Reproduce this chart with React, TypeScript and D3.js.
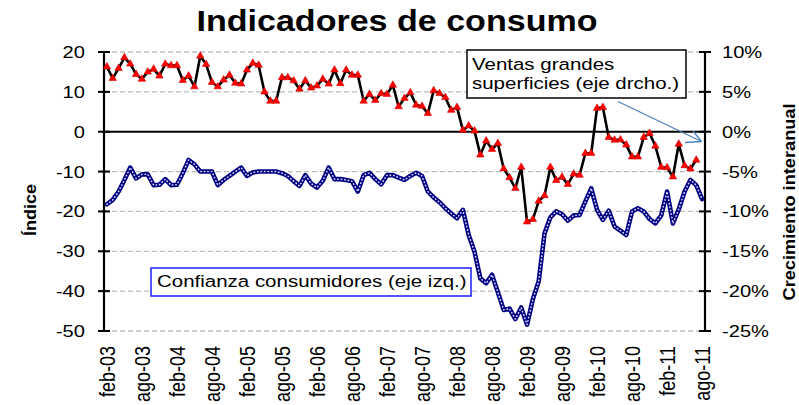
import React from "react";
import * as d3 from "d3";

const MONTHS = ["ene", "feb", "mar", "abr", "may", "jun", "jul", "ago", "sep", "oct", "nov", "dic"];
// feb-03 .. ago-11 (103 months)
const categories: string[] = [];
for (let k = 0; k < 103; k++) {
  const m = (1 + k) % 12;
  const y = 3 + Math.floor((1 + k) / 12);
  categories.push(`${MONTHS[m]}-${String(y).padStart(2, "0")}`);
}

const xTickLabels = [
  "feb-03", "ago-03", "feb-04", "ago-04", "feb-05", "ago-05", "feb-06", "ago-06", "feb-07",
  "ago-07", "feb-08", "ago-08", "feb-09", "ago-09", "feb-10", "ago-10", "feb-11", "ago-11",
];
const leftTicks = [20, 10, 0, -10, -20, -30, -40, -50];
const rightTicks = [10, 5, 0, -5, -10, -15, -20, -25];

// Ventas grandes superficies, % interanual (right axis), feb-03 .. jul-11
const ventas = [
  8.15, 6.7, 7.95, 9.3, 8.5, 7.2, 6.6, 7.5, 7.85, 7.0, 8.5, 8.3,
  8.3, 6.45, 7.0, 5.65, 9.5, 8.45, 6.2, 5.65, 6.5, 7.1, 6.1, 6.0,
  7.75, 8.6, 8.35, 5.0, 3.85, 3.85, 6.8, 6.8, 6.4, 5.35, 6.4, 5.5,
  5.75, 6.6, 6.0, 7.75, 6.05, 7.75, 7.1, 7.1, 3.85, 4.7, 3.95, 4.8,
  4.7, 5.85, 3.15, 4.2, 4.9, 3.35, 3.2, 2.3, 5.15, 4.8, 4.3, 2.7,
  3.05, 0.2, 0.75, 0.1, -2.9, -1.15, -2.2, -1.45, -4.65, -5.75, -7.1, -4.45,
  -11.3, -11.0, -8.7, -8.0, -4.45, -6.1, -5.7, -6.6, -5.3, -5.45, -2.7, -2.7,
  2.95, 3.05, -0.7, -1.05, -1.0, -1.65, -3.15, -3.15, -0.7, -0.2, -1.8, -4.45,
  -4.5, -5.65, -1.55, -4.25, -4.65, -3.55,
];

// Confianza consumidores, índice (left axis), feb-03 .. ago-11
const confianza = [
  -18.2, -17.1, -15.0, -12.1, -9.0, -11.7, -10.7, -10.7, -13.4, -13.3, -11.9, -13.4,
  -13.3, -10.4, -7.1, -8.2, -10.0, -10.0, -10.0, -13.4, -12.1, -11.1, -10.0, -9.0,
  -11.1, -10.2, -10.0, -10.0, -10.0, -10.0, -10.4, -11.1, -12.4, -13.6, -10.9, -13.0,
  -14.0, -12.3, -9.0, -11.9, -11.9, -12.1, -12.4, -15.0, -10.9, -10.3, -11.9, -13.2,
  -10.9, -10.9, -11.5, -12.1, -11.1, -10.3, -11.1, -15.0, -16.5, -17.7, -19.2, -20.5,
  -21.7, -19.6, -25.9, -30.1, -36.8, -38.0, -35.9, -40.3, -44.7, -44.4, -47.0, -44.1,
  -48.4, -42.0, -37.5, -25.5, -21.5, -20.0, -20.7, -22.3, -21.0, -20.9, -17.5, -14.2,
  -19.6, -22.1, -19.8, -23.8, -24.8, -25.9, -20.0, -19.2, -20.0, -21.9, -23.0, -21.0,
  -15.0, -23.0, -19.5, -15.0, -12.1, -13.4, -16.9,
];

const W = 799;
const H = 405;
const PL = 104;
const PR = 705;
const PT = 52;
const PB = 331;
const SX = 1.22;
const FONT = "'Liberation Sans', Arial, sans-serif";

export default function App() {
  const x = d3.scaleBand<string>().domain(categories).range([PL, PR]);
  const cx = (c: string) => (x(c) as number) + x.bandwidth() / 2;
  const yL = d3.scaleLinear().domain([-50, 20]).range([PB, PT]);
  const yR = d3.scaleLinear().domain([-25, 10]).range([PB, PT]);

  const ventasLine = d3
    .line<number>()
    .x((_, i) => cx(categories[i]))
    .y((d) => yR(d));
  const confLine = d3
    .line<number>()
    .x((_, i) => cx(categories[i]))
    .y((d) => yL(d));
  const tri = d3.symbol(d3.symbolTriangle).size(24)() as string;

  return (
    <svg
      width={W}
      height={H}
      style={{ position: "absolute", left: 0, top: 0, background: "#fff" }}
      fontFamily={FONT}
    >
      <rect width={W} height={H} fill="#fff" />
      {/* title */}
      <text
        x={397}
        y={31}
        textAnchor="middle"
        fontSize={29}
        fontWeight="bold"
        textLength={401}
        lengthAdjust="spacingAndGlyphs"
      >
        Indicadores de consumo
      </text>

      {/* gridlines */}
      {leftTicks
        .filter((t) => t !== 0)
        .map((t) => (
          <line
            key={"g" + t}
            x1={PL}
            x2={PR}
            y1={yL(t)}
            y2={yL(t)}
            stroke="#bdbdbd"
            strokeWidth={1.3}
            strokeDasharray="5 3"
          />
        ))}

      {/* zero line (category axis) */}
      <line x1={PL} x2={PR} y1={yL(0)} y2={yL(0)} stroke="#000" strokeWidth={2} />

      {/* left axis */}
      <line x1={PL} x2={PL} y1={PT} y2={PB} stroke="#000" strokeWidth={2.2} />
      {leftTicks.map((t) => (
        <g key={"l" + t}>
          <line x1={PL - 6} x2={PL + 6} y1={yL(t)} y2={yL(t)} stroke="#000" strokeWidth={2} />
          <text
            transform={`translate(85,${yL(t)}) scale(${SX},1)`}
            textAnchor="end"
            dy="0.36em"
            fontSize={16.5}
          >
            {t}
          </text>
        </g>
      ))}

      {/* right axis */}
      <line x1={PR} x2={PR} y1={PT} y2={PB} stroke="#000" strokeWidth={2.2} />
      {rightTicks.map((t) => (
        <g key={"r" + t}>
          <line x1={PR - 6} x2={PR + 6} y1={yR(t)} y2={yR(t)} stroke="#000" strokeWidth={2} />
          <text
            transform={`translate(722,${yR(t)}) scale(${SX},1)`}
            textAnchor="start"
            dy="0.36em"
            fontSize={16.5}
          >
            {t + "%"}
          </text>
        </g>
      ))}

      {/* x labels */}
      {xTickLabels.map((lab) => (
        <text
          key={lab}
          transform={`translate(${cx(lab)},346) scale(${SX},1) rotate(-90)`}
          textAnchor="end"
          dy="0.36em"
          fontSize={18}
        >
          {lab}
        </text>
      ))}

      {/* axis titles */}
      <text
        transform={`translate(30,210) rotate(-90)`}
        textAnchor="middle"
        dy="0.36em"
        fontSize={16}
        fontWeight="bold"
        textLength={52}
        lengthAdjust="spacingAndGlyphs"
      >
        Índice
      </text>
      <text
        transform={`translate(789,202) rotate(-90)`}
        textAnchor="middle"
        dy="0.36em"
        fontSize={16}
        fontWeight="bold"
        textLength={197}
        lengthAdjust="spacingAndGlyphs"
      >
        Crecimiento interanual
      </text>

      {/* confianza series */}
      <path
        d={confLine(confianza) as string}
        fill="none"
        stroke="#000080"
        strokeWidth={4.6}
        strokeLinejoin="round"
        strokeLinecap="round"
      />
      <path
        d={confLine(confianza) as string}
        fill="none"
        stroke="#dcdcff"
        strokeWidth={1.5}
        strokeDasharray="0.5 3"
        strokeLinecap="round"
        strokeLinejoin="round"
      />

      {/* ventas series */}
      <path
        d={ventasLine(ventas) as string}
        fill="none"
        stroke="#000"
        strokeWidth={2.6}
        strokeLinejoin="round"
      />
      {ventas.map((v, i) => (
        <path
          key={"m" + i}
          d={tri}
          transform={`translate(${cx(categories[i])},${yR(v)})`}
          fill="#ff0000"
          stroke="#d00000"
          strokeWidth={0.6}
        />
      ))}

      {/* Ventas label box */}
      <rect x={467} y={50} width={219} height={48} fill="#fff" stroke="#000" strokeWidth={1.5} />
      <text transform={`translate(472,70) scale(${SX},1)`} fontSize={16.8}>
        Ventas grandes
      </text>
      <text transform={`translate(472,89) scale(${SX},1)`} fontSize={16.8}>
        superficies (eje drcho.)
      </text>
      {/* arrow */}
      <line x1={618} y1={101.5} x2={701.5} y2={141.5} stroke="#4f81bd" strokeWidth={1.3} />
      <line x1={701.5} y1={141.5} x2={693} y2={131} stroke="#4f81bd" strokeWidth={1.3} />
      <line x1={701.5} y1={141.5} x2={685} y2={142.5} stroke="#4f81bd" strokeWidth={1.3} />

      {/* Confianza label box */}
      <rect x={151} y={268} width={320} height={28} fill="#fff" stroke="#2a2aff" strokeWidth={1.6} />
      <text transform={`translate(157,287) scale(${SX},1)`} fontSize={16.8}>
        Confianza consumidores (eje izq.)
      </text>
    </svg>
  );
}
